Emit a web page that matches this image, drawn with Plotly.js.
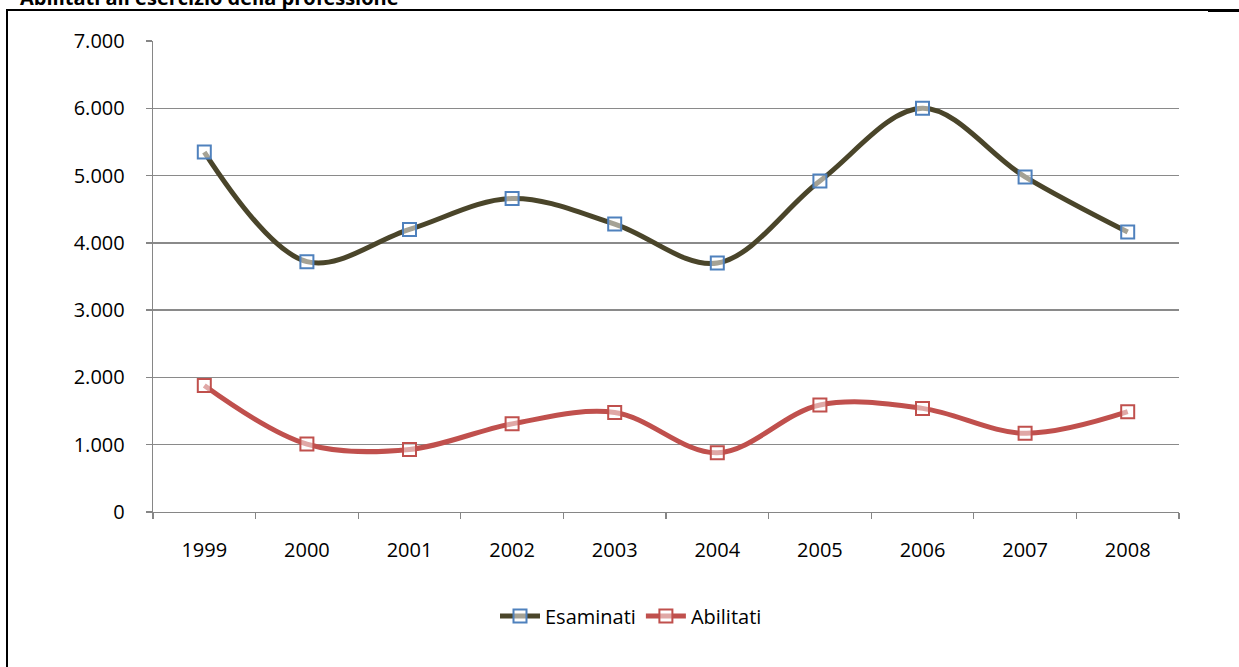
<!DOCTYPE html>
<html>
<head>
<meta charset="utf-8">
<script src="https://cdn.plot.ly/plotly-3.0.1.min.js"></script>
<style>html,body{margin:0;padding:0;background:#fff;}#chart{width:1239px;height:667px;}</style>
</head>
<body>
<div id="chart"></div>
<script>
const years = ['1999','2000','2001','2002','2003','2004','2005','2006','2007','2008'];
const esaminati = [5350, 3720, 4200, 4660, 4280, 3700, 4920, 6000, 4980, 4160];
const abilitati = [1880, 1010, 930, 1310, 1480, 880, 1590, 1540, 1170, 1490];
const seriesNames = ['Esaminati', 'Abilitati'];
const chartTitle = "Abilitati all'esercizio della professione";

const W = 1239, H = 667;
const L = 153, R = 1179, T = 41, B = 512;
const px = x => (x - L) / (R - L);
const py = y => (B - y) / (B - T);

const font = "'Open Sans', 'Noto Sans', sans-serif";

const traces = [
  {
    x: years, y: esaminati, name: seriesNames[0], type: 'scatter', mode: 'lines+markers',
    line: {color: '#4A452A', width: 5, shape: 'spline', smoothing: 1},
    marker: {symbol: 'square', size: 13, color: 'rgba(255,255,255,0.5)', line: {color: '#4F81BD', width: 2}}
  },
  {
    x: years, y: abilitati, name: seriesNames[1], type: 'scatter', mode: 'lines+markers',
    line: {color: '#C0504D', width: 5, shape: 'spline', smoothing: 1},
    marker: {symbol: 'square', size: 13, color: 'rgba(255,255,255,0.5)', line: {color: '#C0504D', width: 2}}
  }
];

const layout = {
  width: W, height: H,
  margin: {l: L, r: W - R, t: T, b: H - B, pad: 0},
  paper_bgcolor: '#fff', plot_bgcolor: '#fff',
  separators: ',.',
  showlegend: true,
  font: {family: font, size: 20, color: '#000'},
  xaxis: {
    type: 'category', range: [-0.5, 9.5], showgrid: false, showline: true, linecolor: '#868686', linewidth: 1.3,
    ticks: 'outside', tickson: 'boundaries', ticklen: 6, tickcolor: '#868686', tickwidth: 1.3,
    ticklabelstandoff: 20, zeroline: false, fixedrange: true
  },
  yaxis: {
    range: [0, 7000], dtick: 1000, tickformat: ',d', showgrid: true, gridcolor: '#8a8a8a', gridwidth: 1.3,
    showline: true, linecolor: '#868686', linewidth: 1.3, ticks: 'outside', ticklen: 6,
    tickcolor: '#868686', tickwidth: 1.3, ticklabelstandoff: 17, zeroline: false
  },
  legend: {
    orientation: 'h', x: px(631), xanchor: 'center', y: py(616), yanchor: 'middle',
    font: {family: font, size: 20}, itemwidth: 40, bgcolor: 'rgba(0,0,0,0)'
  },
  annotations: [
    {text: '<b>' + chartTitle + '</b>', xref: 'paper', yref: 'paper', x: px(18), y: py(13),
     xanchor: 'left', yanchor: 'bottom', showarrow: false,
     font: {family: font, size: 20, color: '#000'}}
  ],
  shapes: [
    {type: 'line', xref: 'paper', yref: 'paper', x0: px(7), x1: px(7), y0: py(10), y1: py(667), line: {color: '#000', width: 2}},
    {type: 'line', xref: 'paper', yref: 'paper', x0: px(6), x1: px(1208), y0: py(10), y1: py(10), line: {color: '#000', width: 2}},
    {type: 'line', xref: 'paper', yref: 'paper', x0: px(1208), x1: px(1239), y0: py(10.5), y1: py(10.5), line: {color: '#000', width: 3}}
  ]
};

Plotly.newPlot('chart', traces, layout, {displayModeBar: false, staticPlot: true});
</script>
</body>
</html>
